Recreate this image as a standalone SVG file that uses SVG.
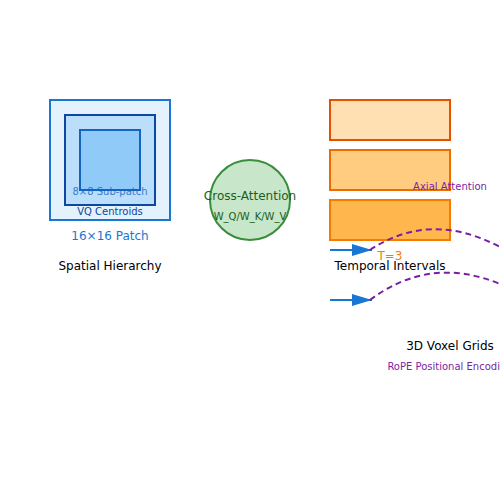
<svg xmlns="http://www.w3.org/2000/svg" width="500" height="500" viewBox="0 0 500 500">
<style>
text{font-family:"DejaVu Sans","Liberation Sans",sans-serif;text-anchor:middle}
.s12{font-size:12px}
.s10{font-size:10px}
.arrow{stroke:#1976d2;stroke-width:2;fill:none}
.dash{stroke:#7b1fa2;stroke-width:2;fill:none;stroke-dasharray:6,4}
</style>
<defs>
<marker id="ah" markerWidth="10" markerHeight="6" refX="10" refY="3" orient="auto" markerUnits="strokeWidth">
<path d="M0,0 L10,3 L0,6 Z" fill="#1976d2"/>
</marker>
</defs>
<rect width="500" height="500" fill="#ffffff"/>
<g id="spatial">
<rect x="50" y="100" width="120" height="120" fill="#e3f2fd" stroke="#1976d2" stroke-width="2"/>
<rect x="65" y="115" width="90" height="90" fill="#bbdefb" stroke="#0d47a1" stroke-width="2"/>
<rect x="80" y="130" width="60" height="60" fill="#90caf9" stroke="#1565c0" stroke-width="2"/>
<text x="110" y="195" class="s10" fill="#1565c0" opacity="0.8">8×8 Sub-patch</text>
<text x="110" y="215" class="s10" fill="#0d47a1">VQ Centroids</text>
<text x="110" y="240" class="s12" fill="#1976d2">16×16 Patch</text>
<text x="110" y="270" class="s12" fill="#000">Spatial Hierarchy</text>
</g>
<g id="cross">
<circle cx="250" cy="200" r="40" fill="#c8e6c9" stroke="#388e3c" stroke-width="2"/>
<text x="250" y="200" class="s12" fill="#1b5e20">Cross-Attention</text>
<text x="250" y="220" class="s10" fill="#1b5e20">W_Q/W_K/W_V</text>
</g>
<g id="temporal">
<rect x="330" y="100" width="120" height="40" fill="#ffe0b2" stroke="#e65100" stroke-width="2"/>
<rect x="330" y="150" width="120" height="40" fill="#ffcc80" stroke="#ef6c00" stroke-width="2"/>
<rect x="330" y="200" width="120" height="40" fill="#ffb74d" stroke="#f57c00" stroke-width="2"/>
<text x="450" y="190" class="s10" fill="#7b1fa2">Axial Attention</text>
<text x="390" y="260" class="s12" fill="#f57c00">T=3</text>
<text x="390" y="270" class="s12" fill="#000">Temporal Intervals</text>
</g>
<g id="connectors">
<line x1="330" y1="250" x2="372" y2="250" class="arrow" marker-end="url(#ah)"/>
<line x1="330" y1="300" x2="372" y2="300" class="arrow" marker-end="url(#ah)"/>
<path d="M370,250 Q430,210 500,247" class="dash"/>
<path d="M370,300 Q430,255 500,284" class="dash"/>
</g>
<g id="voxel">
<text x="450" y="350" class="s12" fill="#000">3D Voxel Grids</text>
<text x="450" y="370" class="s10" fill="#7b1fa2">RoPE Positional Encoding</text>
</g>
</svg>
